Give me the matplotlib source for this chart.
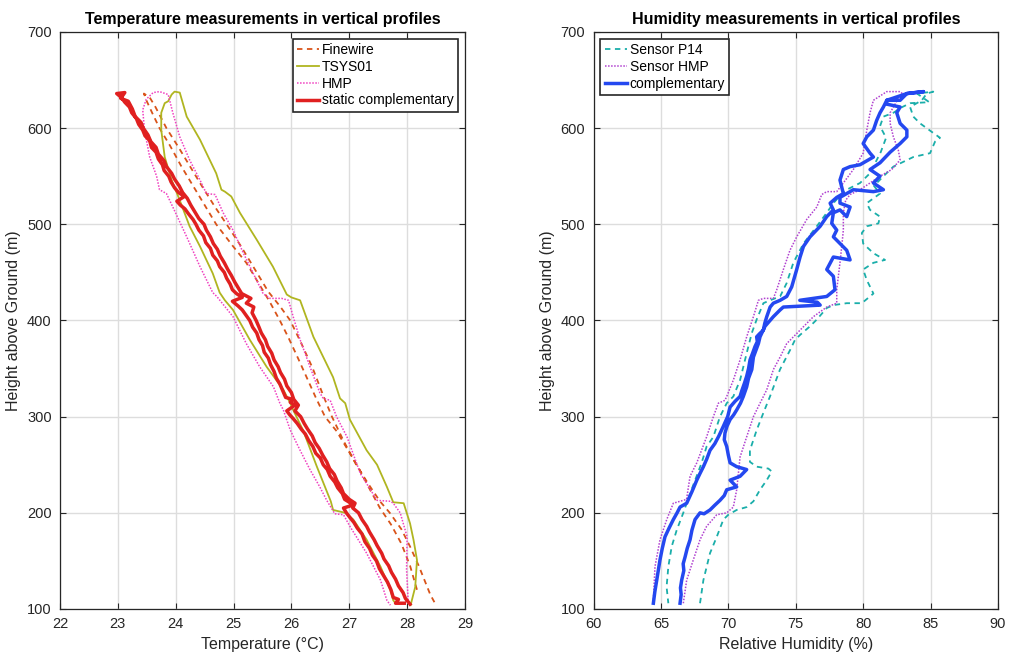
import numpy as np
import matplotlib
matplotlib.use("Agg")
import matplotlib.pyplot as plt

plt.rcParams['font.family'] = ['Liberation Sans', 'DejaVu Sans']

# ---------------- temperature profiles (deg C, height m) ----------------
fw_T = [28.17, 28.05, 27.9, 27.72, 27.53, 27.35, 27.15, 26.95, 26.78, 26.58, 26.42, 26.27, 26.12,
        25.95, 25.8, 25.62, 25.42, 25.22, 24.98, 24.7, 24.5, 24.3, 24.1, 23.9, 23.72, 23.6, 23.5,
        23.45, 23.55, 23.65, 23.84, 24.05, 24.25, 24.45, 24.68, 24.88, 25.12, 25.35, 25.6, 25.8,
        25.98, 26.18, 26.37, 26.55, 26.7, 26.9, 27.12, 27.33, 27.53, 27.7, 27.9, 28.05, 28.2, 28.3,
        28.4, 28.49]
fw_h = [120, 145, 168, 188, 205, 225, 248, 268, 285, 300, 320, 340, 360,
        382, 400, 420, 440, 460, 478, 500, 520, 540, 560, 582, 600, 615, 628,
        636, 632, 622, 600, 580, 560, 540, 518, 500, 478, 455, 430, 415,
        400, 375, 350, 322, 300, 275, 250, 230, 212, 200, 183, 165, 145, 130,
        115, 105]

tsys_T = [28.06, 28.14, 28.17, 28.11, 28.05, 27.94, 27.76, 27.65, 27.48, 27.3, 27.01, 26.93, 26.84,
          26.72, 26.38, 26.15, 26.0, 25.92, 25.68, 25.4, 25.11, 24.96, 24.85, 24.79, 24.7, 24.42,
          24.19, 24.07, 23.98, 23.93, 23.87, 23.81, 23.75, 23.75, 23.81, 23.93, 24.07, 24.24, 24.42,
          24.64, 24.76, 24.85, 24.99, 25.28, 25.57, 25.86, 25.98, 26.03, 26.2, 26.44, 26.68, 26.72,
          26.93, 27.07, 27.3, 27.54, 27.71, 27.76, 27.8]
tsys_h = [104, 123, 151, 172, 189, 210, 211, 227, 250, 265, 297, 314, 319,
          341, 383, 421, 424, 427, 456, 484, 512, 529, 534, 536, 553, 588,
          612, 637, 638, 635, 628, 626, 616, 598, 570, 546, 525, 498, 477,
          449, 429, 421, 411, 380, 352, 328, 314, 307, 286, 248, 212, 203,
          200, 193, 172, 144, 120, 109, 106]

hmp_T = [28.02, 27.99, 28.0, 27.88, 27.76, 27.71, 27.48, 27.19, 26.96, 26.78, 26.67, 26.55, 26.49,
         26.32, 26.15, 26.03, 25.95, 25.83, 25.63, 25.51, 25.34, 25.17, 24.99, 24.82, 24.68, 24.53,
         24.42, 24.24, 24.07, 23.95, 23.87, 23.72, 23.61, 23.49, 23.43, 23.46, 23.55, 23.67, 23.72,
         23.84, 23.95, 24.19, 24.42, 24.64, 24.71, 24.99, 25.22, 25.45, 25.69, 25.8, 25.86, 25.98,
         26.15, 26.32, 26.49, 26.61, 26.75, 26.9, 27.01, 27.3, 27.54, 27.65, 27.71]
hmp_h = [106, 141, 175, 200, 210, 212, 213, 241, 279, 300, 317, 319, 325,
         352, 380, 404, 421, 423, 423, 428, 449, 470, 494, 512, 531, 532,
         546, 567, 591, 616, 635, 638, 637, 630, 619, 598, 570, 550, 536,
         532, 518, 487, 456, 429, 425, 404, 376, 352, 331, 314, 307, 286,
         265, 245, 227, 213, 199, 198, 186, 158, 130, 109, 104]

# static complementary: ascent (left branch) then descent (right branch)
comp_T = [27.95, 27.8, 27.85, 27.76, 27.72, 27.66, 27.6, 27.52, 27.47, 27.4, 27.35, 27.27, 27.22,
          27.14, 27.08, 27.0, 26.95, 26.9, 27.06, 27.0, 26.92, 26.88, 26.8, 26.75, 26.67, 26.62,
          26.55, 26.5, 26.42, 26.37, 26.3, 26.24, 26.17, 26.1, 26.03, 25.97, 25.92, 26.06, 25.98,
          26.02, 25.9, 25.85, 25.8, 25.74, 25.7, 25.64, 25.6, 25.53, 25.5, 25.44, 25.4, 25.33, 25.28,
          25.22, 25.15, 25.08, 24.98, 25.15, 25.05, 24.98, 24.94, 24.88, 24.84, 24.76, 24.72, 24.64,
          24.6, 24.52, 24.48, 24.4, 24.35, 24.3, 24.22, 24.16, 24.08, 24.02, 24.15, 24.05, 23.98,
          23.92, 23.88, 23.8, 23.77, 23.7, 23.66, 23.58, 23.55, 23.47, 23.43, 23.36, 23.32, 23.24,
          23.2, 23.12, 23.06, 22.98, 23.12, 23.05, 23.18,
          23.25, 23.3, 23.4, 23.44, 23.52, 23.57, 23.66, 23.7, 23.8, 23.84, 23.93, 23.98, 24.06,
          24.12, 24.2, 24.26, 24.33, 24.4, 24.49, 24.53, 24.6, 24.65, 24.72, 24.77, 24.84, 24.9,
          24.96, 25.02, 25.08, 25.14, 25.3, 25.22, 25.35, 25.32, 25.39, 25.44, 25.48, 25.55, 25.59,
          25.66, 25.7, 25.77, 25.81, 25.88, 25.92, 26.0, 26.04, 26.12, 26.06, 26.16, 26.22, 26.28,
          26.36, 26.41, 26.48, 26.54, 26.61, 26.66, 26.74, 26.79, 26.86, 26.9, 27.0, 27.1, 27.06,
          27.16, 27.22, 27.3, 27.35, 27.43, 27.48, 27.56, 27.6, 27.68, 27.73, 27.8, 27.85, 27.93,
          27.97, 28.05]
comp_h = [106, 106, 110, 112, 120, 128, 134, 142, 150, 156, 163, 170, 178,
          184, 190, 196, 200, 205, 208, 211, 214, 220, 226, 232, 238, 245,
          250, 257, 262, 269, 275, 282, 287, 293, 298, 302, 306, 312, 315,
          318, 320, 327, 334, 340, 347, 354, 361, 367, 374, 380, 387, 393, 400,
          405, 411, 415, 420, 424, 428, 432, 438, 444, 450, 456, 462, 468,
          475, 481, 488, 494, 500, 505, 511, 516, 520, 524, 529, 533, 538,
          544, 550, 556, 562, 568, 575, 580, 587, 592, 598, 604, 610, 616,
          622, 627, 632, 636, 637, 631, 628,
          620, 612, 606, 600, 593, 586, 580, 573, 566, 560, 553, 547, 540,
          533, 527, 520, 513, 506, 500, 494, 487, 480, 474, 467, 460, 453,
          447, 440, 434, 428, 423, 418, 414, 408, 400, 393, 387, 380, 373,
          366, 359, 352, 346, 339, 332, 325, 318, 312, 306, 300, 293, 287,
          280, 273, 267, 260, 253, 246, 240, 233, 226, 220, 214, 210, 205,
          200, 193, 186, 180, 172, 166, 158, 152, 145, 138, 131, 124, 117,
          111, 105]

# ---------------- humidity profiles (% RH, height m) ----------------
p14_RH = [67.9, 68.15, 68.64, 69.14, 69.63, 70.0, 70.62, 71.36, 71.86, 72.35, 72.85, 73.22, 72.97,
          72.1, 71.6, 71.6, 72.1, 72.6, 73.09, 73.83, 74.57, 74.95, 75.32, 76.06, 76.56, 77.3,
          77.79, 78.78, 79.9, 80.76, 80.27, 80.0, 80.76, 81.62, 80.76, 80.0, 79.9, 80.27, 81.13,
          81.25, 80.51, 80.27, 81.25, 80.8, 81.5, 82.24, 83.72, 84.96, 85.33, 85.7, 85.2, 84.22,
          83.72, 83.48, 84.35, 84.72, 85.2, 84.0, 84.9, 83.5, 82.9, 82.24, 81.5, 81.25, 81.7, 81.3,
          80.5, 79.77, 78.78, 78.3, 77.79, 77.3, 76.56, 75.57, 74.82, 74.33, 73.84, 73.09, 72.6,
          72.1, 71.74, 71.36, 70.87, 70.37, 69.88, 69.38, 68.89, 68.39, 68.02, 67.16, 66.66, 66.17,
          65.8, 65.55, 65.42, 65.55]
p14_h = [106, 130, 158, 175, 193, 198, 203, 206, 212, 224, 234, 243, 246,
         248, 253, 265, 286, 304, 321, 349, 369, 380, 385, 394, 401, 413,
         416, 418, 418, 428, 442, 453, 460, 463, 470, 480, 491, 498, 501,
         508, 515, 522, 532, 540, 550, 560, 570, 574, 586, 590, 595, 605,
         612, 622, 629, 636, 638, 636, 627, 626, 622, 616, 612, 602, 590, 575,
         553, 543, 536, 530, 522, 512, 498, 480, 460, 439, 425, 421, 418,
         401, 387, 366, 338, 321, 314, 300, 279, 269, 252, 220, 200, 182,
         165, 144, 123, 106]

shmp_RH = [66.66, 66.91, 67.4, 67.9, 68.39, 69.14, 69.88, 70.37, 70.62, 70.87, 71.36, 71.86, 72.35,
           72.85, 73.34, 73.84, 74.33, 75.32, 76.31, 77.3, 78.04, 78.04, 78.16, 78.28, 78.41, 78.53,
           78.53, 78.7, 79.03, 79.77, 80.51, 81.25, 82.12, 82.74, 82.61, 82.24, 82.0, 82.0, 82.61,
           82.98, 82.74, 81.75, 80.76, 80.51, 80.27, 80.0, 79.27, 78.53, 78.04, 77.3, 76.93, 76.56,
           75.81, 75.07, 74.57, 74.08, 73.59, 73.34, 72.6, 72.23, 71.86, 71.36, 70.87, 70.37, 69.88,
           69.75, 69.26, 68.89, 68.39, 67.66, 67.16, 66.9, 66.42, 65.92, 65.43, 64.93, 64.56, 64.44]
shmp_h = [106, 130, 151, 172, 186, 198, 200, 206, 224, 258, 279, 300, 314,
          328, 349, 362, 376, 390, 404, 414, 418, 432, 446, 460, 477, 494,
          512, 525, 531, 536, 543, 550, 557, 567, 577, 591, 605, 616, 631,
          635, 638, 638, 629, 616, 598, 574, 557, 543, 534, 534, 531, 518,
          505, 487, 473, 453, 432, 423, 423, 421, 404, 383, 359, 338, 321,
          317, 314, 300, 279, 252, 238, 214, 212, 210, 193, 172, 144, 109]

# complementary: ascent (right branch) then descent (left branch)
cmp_RH = [66.42, 66.5, 66.45, 66.54, 66.7, 66.65, 66.79, 66.95, 67.16, 67.3, 67.53, 67.9, 68.2,
          68.64, 69.0, 69.38, 69.7, 69.88, 70.62, 70.13, 70.87, 71.36, 70.62, 70.13, 70.0, 69.88,
          69.7, 69.75, 69.9, 70.13, 70.4, 70.62, 70.9, 71.11, 71.36, 71.5, 71.74, 71.86, 72.23,
          72.35, 72.72, 73.34, 73.84, 74.08, 76.81, 76.6, 75.3, 77.3, 77.91, 77.79, 77.3, 77.79,
          79.03, 78.78, 78.28, 77.79, 78.04, 77.67, 77.79, 78.28, 78.78, 79.03, 78.28, 78.28, 79.27,
          80.76, 81.5, 80.76, 81.25, 80.51, 81.25, 82.0, 82.74, 83.24, 83.24, 82.74, 82.49, 82.74,
          81.75, 81.75, 83.24, 84.47,
          83.24, 82.74, 81.75, 81.5, 81.25, 81.0, 80.76, 80.27, 80.0, 80.51, 80.76, 79.77, 79.03,
          78.53, 78.28, 78.53, 78.04, 77.55, 77.79, 77.3, 76.81, 76.06, 75.57, 75.32, 75.07, 74.7,
          74.33, 73.84, 73.34, 73.1, 72.85, 72.7, 72.6, 72.3, 72.1, 72.15, 71.98, 71.8, 71.61, 71.5,
          71.36, 71.2, 71.0, 70.87, 70.5, 70.13, 69.95, 69.63, 69.3, 69.0, 68.64, 68.4, 68.15, 67.9,
          67.66, 67.3, 66.91, 66.42, 66.2, 65.92, 65.6, 65.3, 65.1, 64.93, 64.8, 64.69, 64.55,
          64.44]
cmp_h = [106, 115, 122, 130, 140, 147, 154, 163, 172, 182, 193, 200, 199,
         203, 208, 213, 218, 224, 227, 234, 238, 245, 248, 252, 260, 269,
         276, 283, 290, 297, 302, 307, 314, 321, 331, 340, 349, 362, 376,
         383, 394, 404, 411, 414, 416, 419, 421, 425, 432, 446, 453, 466,
         463, 473, 480, 487, 494, 501, 512, 515, 508, 518, 522, 528, 536,
         534, 536, 543, 550, 557, 564, 575, 584, 591, 598, 605, 616, 622,
         625, 629, 636, 638,
         636, 629, 629, 622, 616, 608, 598, 591, 584, 574, 570, 562, 560,
         557, 546, 532, 528, 522, 515, 508, 498, 487, 477, 466, 453, 435,
         425, 421, 418, 414, 404, 397, 390, 386, 383, 378, 373, 366, 359, 350,
         342, 335, 327, 321, 316, 310, 300, 290, 280, 272, 265, 256, 248, 241,
         234, 222, 210, 206, 200, 193, 184, 175, 163, 151, 140, 130, 118,
         106]

dpi = 100
fig = plt.figure(figsize=(1010 / dpi, 654 / dpi), dpi=dpi)
ax1 = fig.add_axes([60 / 1010, 45 / 654, 405 / 1010, 577 / 654])
ax2 = fig.add_axes([593.5 / 1010, 45 / 654, 404.5 / 1010, 577 / 654])

ax1.plot(fw_T, fw_h, color='#D95319', ls=(0, (3, 2.5)), lw=1.3, label='Finewire')
ax1.plot(tsys_T, tsys_h, color='#B0B520', lw=1.3, label='TSYS01')
ax1.plot(hmp_T, hmp_h, color='#F040C0', ls=(0, (1, 1)), lw=1.1, label='HMP')
ax1.plot(comp_T, comp_h, color='#E02020', lw=2.5, label='static complementary')

ax2.plot(p14_RH, p14_h, color='#1AAEAA', ls=(0, (3, 2.5)), lw=1.3, label='Sensor P14')
ax2.plot(shmp_RH, shmp_h, color='#B040D0', ls=(0, (1, 1)), lw=1.1, label='Sensor HMP')
ax2.plot(cmp_RH, cmp_h, color='#2448F0', lw=2.5, label='complementary')

for ax in (ax1, ax2):
    ax.set_ylim(100, 700)
    ax.set_yticks(range(100, 701, 100))
    ax.grid(True, color='#DDDDDD', lw=1)
    ax.set_axisbelow(True)
    ax.tick_params(direction='in', top=True, right=True, labelsize=10.5,
                   length=4, width=0.8, color='#262626', labelcolor='#262626', pad=6)
    for s in ax.spines.values():
        s.set_color('#262626')
        s.set_linewidth(0.9)
    ax.set_ylabel('Height above Ground (m)', fontsize=11.5, color='#262626')

ax1.set_xlim(22, 29)
ax1.set_xticks(range(22, 30))
ax1.set_xlabel('Temperature (°C)', fontsize=11.5, color='#262626')
ax1.set_title('Temperature measurements in vertical profiles', fontsize=11.5,
              fontweight='bold', pad=6)

ax2.set_xlim(60, 90)
ax2.set_xticks(range(60, 91, 5))
ax2.set_xlabel('Relative Humidity (%)', fontsize=11.5, color='#262626')
ax2.set_title('Humidity measurements in vertical profiles', fontsize=11.5,
              fontweight='bold', pad=6)

for ax, loc in ((ax1, 'upper right'), (ax2, 'upper left')):
    leg = ax.legend(loc=loc, fontsize=10, fancybox=False, framealpha=1,
                    handlelength=1.6, handletextpad=0.2, borderpad=0.3,
                    labelspacing=0.2, borderaxespad=0.5)
    leg.get_frame().set_edgecolor('#262626')
    leg.get_frame().set_linewidth(1.2)

fig.savefig('out.png', dpi=dpi)
